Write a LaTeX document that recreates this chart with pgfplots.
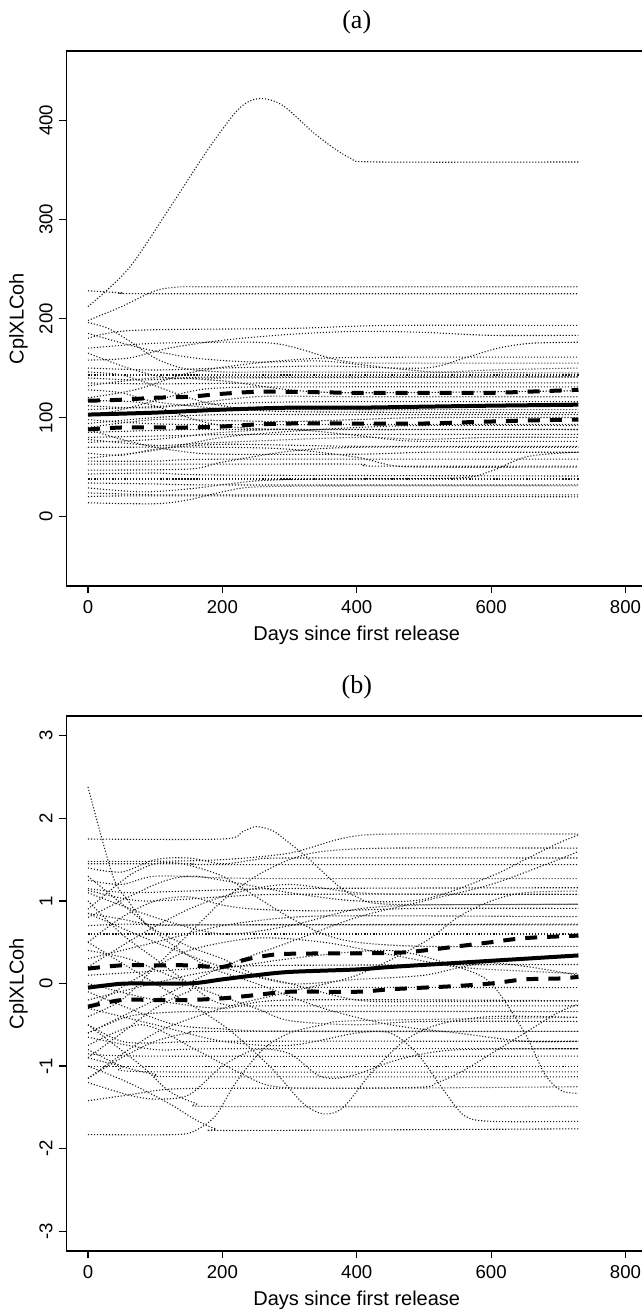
\documentclass[border=0pt]{standalone}
\usepackage{fontspec}
\setmainfont{Liberation Sans}
\newfontfamily\serifttl{Liberation Serif}
\usepackage{pgfplots}
\pgfplotsset{compat=1.18}
\pgfplotsset{
 rbase/.style={
  scale only axis, width=290.25pt, height=267.5pt,
  xmin=-32, xmax=832,
  xtick={0,200,400,600,800},
  tick align=outside, xtick pos=left, ytick pos=left,
  major tick length=3.5pt,
  axis line style={line width=0.6pt},
  every tick/.style={black, line width=0.6pt},
  tick label style={font=\fontsize{9.3}{10}\selectfont},
  /pgf/number format/assume math mode=true,
  xlabel={Days since first release}, ylabel={CplXLCoh},
  label style={font=\fontsize{9}{10}\selectfont},
  every axis x label/.style={at={(axis description cs:0.5,-0.0916)}, anchor=center},
  every axis y label/.style={at={(axis description cs:-0.0827,0.5)}, rotate=90, anchor=center},
  yticklabel style={rotate=90, anchor=south},
  xticklabel style={anchor=north},
  title style={at={(axis description cs:0.5,1)}, anchor=center, yshift=8.5pt, font=\serifttl\fontsize{13}{15}\selectfont},
 },
 dl/.style={black!90, line width=0.55pt, dash pattern=on 0.55pt off 0.95pt, smooth, no marks},
 mn/.style={black, line width=2pt, smooth, no marks},
 ci/.style={black, line width=2pt, dash pattern=on 6pt off 5pt, smooth, no marks},
}
\begin{document}
\begin{tikzpicture}
\path[use as bounding box] (0,0) rectangle (321pt,656pt);
% ---------------- panel (a)
\begin{axis}[rbase, at={(33.25pt,363pt)}, anchor=south west,
  ymin=-70, ymax=470, ytick={0,100,200,300,400}, title={(a)}]
\addplot[dl] coordinates {(0,212)(60,250)(120,310)(180,372)(225,412)(255,422)(290,415)(340,385)(390,362)(430,358)(730,358)};
\addplot[dl] coordinates {(0,228)(50,226)(100,225)(730,225)};
\addplot[dl] coordinates {(0,198)(50,212)(100,228)(140,232)(200,232)(730,232)};
\addplot[dl] coordinates {(0,180)(67,188)(300,190)(450,193)(730,193)};
\addplot[dl] coordinates {(0,196)(30,190)(60,178)(100,160)(140,150)(200,146)(300,146)(730,145)};
\addplot[dl] coordinates {(0,170)(100,175)(250,176)(300,172)(360,160)(390,156)(430,155)(730,155)};
\addplot[dl] coordinates {(0,158)(60,160)(120,170)(200,178)(300,184)(400,187)(500,186)(600,183)(730,183)};
\addplot[dl] coordinates {(0,150)(100,148)(200,150)(350,152)(500,150)(560,160)(610,170)(660,175)(730,176)};
\addplot[dl] coordinates {(0,146)(50,143)(100,132)(150,120)(200,112)(300,106)(730,105)};
\addplot[dl] coordinates {(0,143)(200,143)(730,143)};
\addplot[dl] coordinates {(0,140)(80,138)(200,140)(730,141)};
\addplot[dl] coordinates {(0,135)(100,134)(300,135)(730,135)};
\addplot[dl] coordinates {(0,128)(50,125)(100,116)(200,109)(300,108)(730,108)};
\addplot[dl] coordinates {(0,120)(70,128)(150,145)(250,155)(350,160)(500,161)(730,161)};
\addplot[dl] coordinates {(0,112)(100,110)(250,121)(400,121)(730,121)};
\addplot[dl] coordinates {(0,108)(200,114)(350,116)(730,116)};
\addplot[dl] coordinates {(0,98)(60,95)(150,93)(400,93)(730,93)};
\addplot[dl] coordinates {(0,94)(100,100)(200,103)(400,103)(730,103)};
\addplot[dl] coordinates {(0,85)(100,87)(200,88)(730,88)};
\addplot[dl] coordinates {(0,80)(150,82)(250,83)(730,83)};
\addplot[dl] coordinates {(0,78)(100,72)(200,75)(400,80)(500,78)(600,80)(730,80)};
\addplot[dl] coordinates {(0,64)(50,62)(100,68)(200,73)(400,71)(730,71)};
\addplot[dl] coordinates {(0,59)(40,62)(100,67)(200,80)(300,86)(400,90)(500,92)(730,92)};
\addplot[dl] coordinates {(0,53)(200,53)(400,53)(430,51)(730,51)};
\addplot[dl] coordinates {(0,47)(150,48)(200,55)(300,66)(400,70)(600,70)(730,70)};
\addplot[dl] coordinates {(0,43)(100,44)(200,42)(730,41)};
\addplot[dl] coordinates {(0,38)(200,38)(730,38)};
\addplot[dl] coordinates {(0,34)(100,33)(200,32)(730,32)};
\addplot[dl] coordinates {(0,29)(80,25)(150,28)(250,36)(350,38)(550,39)(600,46)(650,60)(700,64)(730,65)};
\addplot[dl] coordinates {(0,24)(100,22)(200,22)(730,22)};
\addplot[dl] coordinates {(0,20)(100,21)(730,20)};
\addplot[dl] coordinates {(0,14)(100,13)(150,17)(200,25)(250,30)(400,31)(730,31)};
\addplot[dl] coordinates {(0,88)(50,78)(100,70)(150,65)(200,63)(400,63)(500,65)(600,65)(730,65)};
\addplot[dl] coordinates {(0,102)(50,108)(150,126)(200,130)(300,131)(730,131)};
\addplot[dl] coordinates {(0,117)(80,115)(150,100)(200,92)(300,88)(730,88)};
\addplot[dl] coordinates {(0,132)(100,140)(200,137)(300,128)(400,125)(730,127)};
\addplot[dl] coordinates {(0,165)(60,150)(120,140)(200,141)(730,141)};
\addplot[dl] coordinates {(0,90)(100,98)(200,97)(300,96)(400,98)(500,100)(730,100)};
\addplot[dl] coordinates {(0,75)(100,78)(200,85)(300,88)(400,82)(450,78)(500,76)(730,76)};
\addplot[dl] coordinates {(0,70)(200,70)(300,68)(400,60)(450,52)(500,50)(730,50)};
\addplot[dl] coordinates {(0,56)(100,56)(200,58)(730,58)};
\addplot[dl] coordinates {(0,185)(80,170)(160,160)(250,156)(350,157)(450,150)(520,146)(600,148)(730,150)};
% mean and bounds
\addplot[mn] coordinates {(0,103)(100,105)(200,108)(300,110)(400,110)(500,111)(600,112)(730,113)};
\addplot[ci] coordinates {(0,117)(50,118)(100,120)(150,121)(200,124)(250,126)(300,126)(400,125)(500,125)(600,125)(650,126)(730,128)};
\addplot[ci] coordinates {(0,88)(50,90)(100,90)(150,90)(200,91)(250,93)(300,94)(400,94)(500,94)(550,95)(600,96)(650,97)(730,98)};
\end{axis}
% ---------------- panel (b)
\begin{axis}[rbase, at={(33.25pt,30.5pt)}, anchor=south west,
  ymin=-3.24, ymax=3.24, ytick={-3,-2,-1,0,1,2,3}, title={(b)}]
\addplot[dl] coordinates {(0,2.38)(37,1.3)(60,1.0)(90,0.7)(150,0.45)(200,0.3)(250,0.1)(300,0.0)(400,-0.2)(500,-0.22)(730,-0.21)};
\addplot[dl] coordinates {(0,1.75)(200,1.75)(230,1.84)(250,1.9)(275,1.85)(300,1.7)(330,1.5)(370,1.2)(400,1.05)(450,0.96)(730,0.96)};
\addplot[dl] coordinates {(0,1.48)(100,1.48)(200,1.5)(300,1.58)(380,1.76)(450,1.81)(730,1.81)};
\addplot[dl] coordinates {(0,1.45)(150,1.45)(200,1.44)(730,1.44)};
\addplot[dl] coordinates {(0,1.40)(50,1.35)(100,1.5)(150,1.52)(200,1.45)(250,1.5)(300,1.52)(730,1.52)};
\addplot[dl] coordinates {(0,1.25)(50,1.2)(100,1.3)(200,1.28)(300,1.27)(730,1.27)};
\addplot[dl] coordinates {(0,1.15)(60,1.1)(150,1.12)(300,1.15)(730,1.16)};
\addplot[dl] coordinates {(0,1.13)(80,1.0)(200,1.05)(300,1.08)(730,1.08)};
\addplot[dl] coordinates {(0,0.9)(60,1.3)(100,1.45)(140,1.45)(200,1.3)(260,1.0)(300,0.8)(350,0.6)(400,0.5)(500,0.45)(730,0.45)};
\addplot[dl] coordinates {(0,0.85)(50,0.78)(100,0.71)(200,0.71)(730,0.71)};
\addplot[dl] coordinates {(0,0.7)(60,0.72)(150,0.71)(730,0.72)};
\addplot[dl] coordinates {(0,0.6)(100,0.6)(730,0.6)};
\addplot[dl] coordinates {(0,0.5)(50,0.8)(100,1.0)(150,1.05)(200,0.95)(250,0.9)(350,0.88)(500,0.91)(730,0.91)};
\addplot[dl] coordinates {(0,0.3)(100,0.5)(200,0.7)(300,0.8)(400,0.82)(730,0.81)};
\addplot[dl] coordinates {(0,0.4)(60,0.3)(120,0.1)(180,-0.1)(250,-0.3)(300,-0.45)(400,-0.5)(500,-0.46)(730,-0.46)};
\addplot[dl] coordinates {(0,0.1)(100,0.15)(200,0.2)(300,0.22)(730,0.23)};
\addplot[dl] coordinates {(0,-0.1)(60,-0.3)(130,-0.5)(200,-0.55)(300,-0.58)(730,-0.58)};
\addplot[dl] coordinates {(0,-0.4)(50,-0.2)(100,0.2)(150,0.6)(200,1.0)(250,1.3)(300,1.5)(350,1.6)(450,1.64)(730,1.64)};
\addplot[dl] coordinates {(0,-0.5)(50,-0.7)(100,-0.72)(200,-0.7)(730,-0.70)};
\addplot[dl] coordinates {(0,-0.6)(60,-0.4)(120,-0.35)(200,-0.34)(730,-0.34)};
\addplot[dl] coordinates {(0,-0.65)(100,-0.8)(200,-0.79)(730,-0.79)};
\addplot[dl] coordinates {(0,-0.8)(50,-1.0)(100,-1.1)(150,-1.13)(730,-1.13)};
\addplot[dl] coordinates {(0,-0.85)(100,-0.88)(730,-0.88)};
\addplot[dl] coordinates {(0,-0.9)(50,-1.0)(100,-1.07)(730,-1.07)};
\addplot[dl] coordinates {(0,-1.0)(100,-1.0)(730,-1.0)};
\addplot[dl] coordinates {(0,-1.15)(50,-0.9)(100,-0.7)(150,-0.6)(200,-0.58)(730,-0.58)};
\addplot[dl] coordinates {(0,-1.2)(60,-1.35)(100,-1.4)(150,-1.35)(200,-1.0)(250,-0.8)(300,-0.85)(340,-1.1)(365,-1.15)(400,-1.1)(450,-0.95)(500,-0.85)(560,-0.8)(730,-0.79)};
\addplot[dl] coordinates {(0,-1.42)(60,-1.35)(120,-1.28)(200,-1.27)(480,-1.26)(520,-1.2)(560,-1.05)(600,-0.85)(650,-0.6)(700,-0.35)(730,-0.25)};
\addplot[dl] coordinates {(0,-1.83)(130,-1.83)(160,-1.78)(190,-1.6)(220,-1.2)(260,-0.8)(300,-0.6)(350,-0.5)(400,-0.45)(730,-0.41)};
\addplot[dl] coordinates {(0,-1.0)(60,-1.2)(120,-1.45)(160,-1.65)(190,-1.76)(220,-1.78)(730,-1.76)};
\addplot[dl] coordinates {(0,-0.5)(80,-1.0)(120,-1.3)(160,-1.45)(200,-1.49)(730,-1.49)};
\addplot[dl] coordinates {(0,0.5)(100,0.0)(200,-0.5)(270,-1.0)(320,-1.45)(351,-1.58)(380,-1.5)(420,-1.1)(470,-0.7)(520,-0.5)(600,-0.4)(730,-0.41)};
\addplot[dl] coordinates {(0,-0.3)(100,-0.5)(200,-0.7)(300,-0.75)(400,-0.6)(450,-0.6)(490,-0.85)(530,-1.3)(560,-1.6)(600,-1.67)(730,-1.67)};
\addplot[dl] coordinates {(0,-0.2)(150,0.1)(300,0.3)(450,0.4)(550,0.2)(600,0.0)(650,-0.6)(680,-1.1)(705,-1.3)(730,-1.33)};
\addplot[dl] coordinates {(0,1.0)(50,0.6)(100,0.3)(150,0.0)(200,-0.25)(300,-0.27)(730,-0.27)};
\addplot[dl] coordinates {(0,0.0)(100,-0.2)(200,-0.3)(300,-0.2)(730,-0.21)};
\addplot[dl] coordinates {(0,-0.6)(100,-0.2)(200,0.2)(300,0.5)(400,0.8)(500,1.0)(600,1.2)(700,1.5)(730,1.6)};
\addplot[dl] coordinates {(0,0.8)(100,1.2)(150,1.3)(200,1.25)(300,1.1)(400,1.0)(500,1.02)(600,1.3)(650,1.5)(700,1.7)(730,1.8)};
\addplot[dl] coordinates {(0,-1.15)(100,-0.6)(200,-0.3)(300,-0.1)(400,0.1)(500,0.5)(550,0.8)(600,1.0)(650,1.1)(730,1.12)};
\addplot[dl] coordinates {(0,-0.9)(50,-0.6)(100,-0.3)(150,-0.1)(200,-0.05)(730,-0.05)};
\addplot[dl] coordinates {(0,0.85)(100,0.5)(200,0.2)(300,0.0)(400,0.05)(500,0.1)(600,0.25)(730,0.1)};
\addplot[dl] coordinates {(0,1.1)(100,0.8)(200,0.6)(300,0.7)(400,0.9)(500,0.95)(730,0.96)};
\addplot[dl] coordinates {(0,0.2)(80,0.6)(150,0.9)(220,1.1)(300,1.2)(400,1.1)(500,1.08)(730,1.08)};
\addplot[dl] coordinates {(0,-0.3)(80,0.1)(150,0.4)(250,0.55)(350,0.5)(450,0.35)(550,0.2)(650,0.15)(730,0.12)};
\addplot[dl] coordinates {(0,1.3)(60,0.9)(120,0.5)(180,0.2)(250,0.0)(350,-0.3)(450,-0.5)(550,-0.6)(650,-0.7)(730,-0.7)};
\addplot[dl] coordinates {(0,-0.75)(80,-0.5)(160,-0.8)(230,-1.1)(280,-1.25)(400,-1.27)(730,-1.25)};
% mean and bounds
\addplot[mn] coordinates {(0,-0.05)(30,-0.02)(60,0.0)(150,0.0)(200,0.05)(250,0.1)(300,0.14)(400,0.17)(450,0.2)(550,0.25)(650,0.3)(730,0.34)};
\addplot[ci] coordinates {(0,0.18)(50,0.22)(100,0.22)(150,0.22)(200,0.2)(230,0.28)(260,0.33)(300,0.36)(450,0.37)(500,0.4)(550,0.45)(600,0.5)(650,0.55)(730,0.58)};
\addplot[ci] coordinates {(0,-0.28)(50,-0.2)(100,-0.2)(150,-0.2)(200,-0.18)(250,-0.14)(300,-0.1)(400,-0.1)(450,-0.07)(500,-0.05)(550,-0.03)(600,0.0)(650,0.05)(700,0.06)(730,0.08)};
\end{axis}
\end{tikzpicture}
\end{document}
